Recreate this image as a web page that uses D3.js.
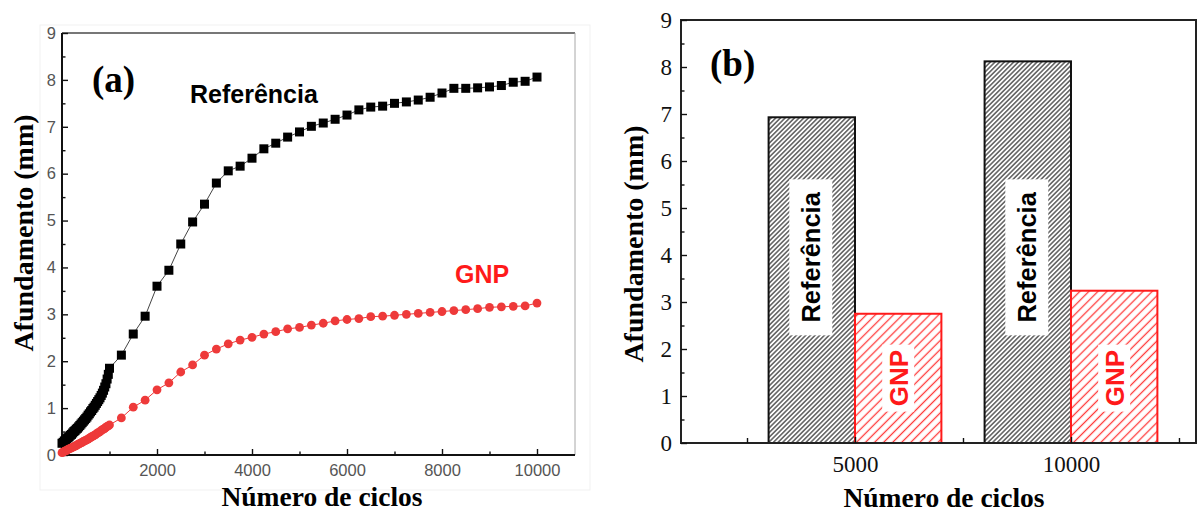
<!DOCTYPE html>
<html>
<head>
<meta charset="utf-8">
<script src="https://cdn.jsdelivr.net/npm/d3@7"></script>
<style>
  body { margin: 0; background: #fff; }
  svg { display: block; }
</style>
</head>
<body>
<svg id="fig" width="1200" height="513"></svg>
<script>
// ---- (a) sinking depth vs. number of cycles ----
const refCycles = [0, 25, 50, 75, 100, 125, 150, 175, 200, 225, 250, 275, 300, 325, 350, 375, 400, 425, 450, 475,
  500, 525, 550, 575, 600, 625, 650, 675, 700, 725, 750, 775, 800, 825, 850, 875, 900, 925, 950, 975,
  1000, 1250, 1500, 1750, 2000, 2250, 2500, 2750, 3000, 3250, 3500, 3750, 4000, 4250, 4500, 4750, 5000,
  5250, 5500, 5750, 6000, 6250, 6500, 6750, 7000, 7250, 7500, 7750, 8000, 8250, 8500, 8750, 9000,
  9250, 9500, 9750, 10000];
const refDepth = [0.25, 0.27, 0.30, 0.32, 0.35, 0.37, 0.39, 0.42, 0.44, 0.47, 0.50, 0.52, 0.55, 0.57, 0.60, 0.63, 0.66, 0.69, 0.72, 0.75,
  0.78, 0.81, 0.85, 0.88, 0.92, 0.95, 0.99, 1.02, 1.06, 1.10, 1.14, 1.18, 1.22, 1.27, 1.32, 1.38, 1.45, 1.52, 1.62, 1.72,
  1.85, 2.13, 2.58, 2.96, 3.60, 3.94, 4.50, 4.97, 5.35, 5.80, 6.06, 6.16, 6.33, 6.53, 6.65, 6.78, 6.89,
  7.01, 7.08, 7.16, 7.25, 7.36, 7.42, 7.44, 7.50, 7.53, 7.57, 7.63, 7.72, 7.82, 7.82, 7.83, 7.85,
  7.88, 7.95, 7.97, 8.06];

const gnpCycles = [0, 25, 50, 75, 100, 125, 150, 175, 200, 225, 250, 275, 300, 325, 350, 375, 400, 425, 450, 475,
  500, 525, 550, 575, 600, 625, 650, 675, 700, 725, 750, 775, 800, 825, 850, 875, 900, 925, 950, 975, 1000,
  1250, 1500, 1750, 2000, 2250, 2500, 2750, 3000, 3250, 3500, 3750, 4000, 4250, 4500, 4750, 5000,
  5250, 5500, 5750, 6000, 6250, 6500, 6750, 7000, 7250, 7500, 7750, 8000, 8250, 8500, 8750, 9000,
  9250, 9500, 9750, 10000];
const gnpDepth = [0.05, 0.06, 0.08, 0.09, 0.10, 0.12, 0.13, 0.14, 0.15, 0.17, 0.18, 0.19, 0.20, 0.22, 0.23, 0.25, 0.26, 0.27, 0.29, 0.30,
  0.31, 0.33, 0.34, 0.36, 0.37, 0.39, 0.40, 0.42, 0.43, 0.45, 0.47, 0.48, 0.50, 0.52, 0.54, 0.55, 0.57, 0.59, 0.61, 0.62, 0.64,
  0.79, 1.02, 1.17, 1.39, 1.54, 1.77, 1.92, 2.13, 2.26, 2.37, 2.45, 2.51, 2.58, 2.63, 2.69, 2.72,
  2.77, 2.81, 2.86, 2.89, 2.91, 2.95, 2.96, 2.98, 3.00, 3.02, 3.04, 3.06, 3.08, 3.10, 3.12, 3.15,
  3.16, 3.17, 3.18, 3.24];

const lineXTicks = [2000, 4000, 6000, 8000, 10000];
const lineXMinor = [1000, 3000, 5000, 7000, 9000];

// ---- (b) depth at 5000 and 10000 cycles ----
const barCycles = [5000, 10000];
const barRef = [6.93, 8.12];
const barGnp = [2.75, 3.24];
const barXMinor = [2500, 7500, 12500];

const depthTicks = [0, 1, 2, 3, 4, 5, 6, 7, 8, 9];
const depthMinor = [0.5, 1.5, 2.5, 3.5, 4.5, 5.5, 6.5, 7.5, 8.5];

const seriesNames = ["Referência", "GNP"];
const axisTitleY = "Afundamento (mm)";
const axisTitleX = "Número de ciclos";

const SERIF = "'Liberation Serif', 'Times New Roman', serif";
const SANS = "'Liberation Sans', Arial, sans-serif";
const RED = "#ff1a1a";
const RED_MARK = "#ee3a3a";

const svg = d3.select("#fig");

// ---------------- panel (a) ----------------
const xL = d3.scaleLinear().domain([0, 10800]).range([62, 575]);
const yL = d3.scaleLinear().domain([0, 9]).range([455, 33]);
const pa = svg.append("g");

// faint outer frame of the panel
pa.append("rect").attr("x", 40).attr("y", 25).attr("width", 550).attr("height", 465)
  .attr("fill", "none").attr("stroke", "#f1f1f1").attr("stroke-width", 1);

// frame: top and right edges
pa.append("line").attr("x1", xL.range()[0]).attr("x2", xL.range()[1])
  .attr("y1", yL.range()[1]).attr("y2", yL.range()[1])
  .attr("stroke", "#4a4a4a").attr("stroke-width", 1.6);
pa.append("line").attr("x1", xL.range()[1]).attr("x2", xL.range()[1])
  .attr("y1", yL.range()[1]).attr("y2", yL.range()[0])
  .attr("stroke", "#a8a8a8").attr("stroke-width", 1);

function styleAxis(g, font, size, color) {
  g.select(".domain").remove();
  g.selectAll(".tick line").attr("stroke", "#111").attr("stroke-width", 1.4);
  g.selectAll(".tick text").attr("font-family", font).attr("font-size", size).attr("fill", color);
}

// minor ticks
pa.append("g").attr("transform", `translate(0,${yL(0)})`)
  .call(d3.axisBottom(xL).tickValues(lineXMinor).tickSize(-3.5).tickFormat(""))
  .call(g => styleAxis(g, SANS, 16, "#555"));
pa.append("g").attr("transform", `translate(${xL(0)},0)`)
  .call(d3.axisLeft(yL).tickValues(depthMinor).tickSize(-3.5).tickFormat(""))
  .call(g => styleAxis(g, SANS, 16, "#555"));
// major ticks
pa.append("g").attr("transform", `translate(0,${yL(0)})`)
  .call(d3.axisBottom(xL).tickValues(lineXTicks).tickSize(-6).tickPadding(9).tickFormat(d3.format("d")))
  .call(g => styleAxis(g, SANS, 16.5, "#555"));
pa.append("g").attr("transform", `translate(${xL(0)},0)`)
  .call(d3.axisLeft(yL).tickValues(depthTicks).tickSize(-6).tickPadding(6).tickFormat(d3.format("d")))
  .call(g => styleAxis(g, SANS, 16.5, "#555"));

// left and bottom axis lines
pa.append("line").attr("x1", xL.range()[0]).attr("x2", xL.range()[1])
  .attr("y1", yL(0)).attr("y2", yL(0)).attr("stroke", "#111").attr("stroke-width", 2);
pa.append("line").attr("x1", xL(0)).attr("x2", xL(0))
  .attr("y1", yL.range()[1]).attr("y2", yL(0)).attr("stroke", "#111").attr("stroke-width", 2);

const refPts = refCycles.map((c, i) => [c, refDepth[i]]);
const gnpPts = gnpCycles.map((c, i) => [c, gnpDepth[i]]);
const line = d3.line().x(d => xL(d[0])).y(d => yL(d[1]));

pa.append("path").datum(refPts).attr("d", line)
  .attr("fill", "none").attr("stroke", "#444").attr("stroke-width", 1);
pa.append("path").datum(gnpPts).attr("d", line)
  .attr("fill", "none").attr("stroke", RED_MARK).attr("stroke-width", 1);

const sq = 9;
pa.append("g").selectAll("rect").data(refPts).join("rect")
  .attr("x", d => xL(d[0]) - sq / 2).attr("y", d => yL(d[1]) - sq / 2)
  .attr("width", sq).attr("height", sq).attr("fill", "#000");
pa.append("g").selectAll("circle").data(gnpPts).join("circle")
  .attr("cx", d => xL(d[0])).attr("cy", d => yL(d[1])).attr("r", 4.4)
  .attr("fill", RED_MARK);

pa.append("text").attr("x", 92).attr("y", 92)
  .attr("font-family", SERIF).attr("font-weight", "bold").attr("font-size", 37)
  .attr("fill", "#000").text("(a)");
pa.append("text").attr("x", 190).attr("y", 103)
  .attr("font-family", SANS).attr("font-weight", "bold").attr("font-size", 25)
  .attr("fill", "#000").text(seriesNames[0]);
pa.append("text").attr("x", 455).attr("y", 283)
  .attr("font-family", SANS).attr("font-weight", "bold").attr("font-size", 25)
  .attr("fill", RED).text(seriesNames[1]);

pa.append("text").attr("transform", "translate(33,233) rotate(-90)")
  .attr("text-anchor", "middle").attr("font-family", SERIF).attr("font-weight", "bold")
  .attr("font-size", 28).attr("fill", "#000").text(axisTitleY);
pa.append("text").attr("x", 322).attr("y", 506)
  .attr("text-anchor", "middle").attr("font-family", SERIF).attr("font-weight", "bold")
  .attr("font-size", 27.5).attr("fill", "#000").text(axisTitleX);

// ---------------- panel (b) ----------------
const xR = d3.scaleLinear().domain([972, 12894]).range([681, 1196]);
const yR = d3.scaleLinear().domain([0, 9]).range([443, 20]);
const barSpan = 2000;
const pb = svg.append("g");

const defs = svg.append("defs");
function hatch(id, gap, color, width) {
  const p = defs.append("pattern").attr("id", id)
    .attr("patternUnits", "userSpaceOnUse").attr("width", gap).attr("height", 10)
    .attr("patternTransform", "rotate(45)");
  p.append("rect").attr("width", gap).attr("height", 10).attr("fill", "#fff");
  p.append("line").attr("x1", gap / 2).attr("x2", gap / 2).attr("y1", 0).attr("y2", 10)
    .attr("stroke", color).attr("stroke-width", width);
}
hatch("hatchRef", 3.3, "#333", 1.2);
hatch("hatchGnp", 6.4, "#ff3a3a", 1.3);

// bars
pb.append("g").selectAll("rect").data(barCycles).join("rect")
  .attr("x", d => xR(d - barSpan)).attr("width", d => xR(d) - xR(d - barSpan))
  .attr("y", (d, i) => yR(barRef[i])).attr("height", (d, i) => yR(0) - yR(barRef[i]))
  .attr("fill", "url(#hatchRef)").attr("stroke", "#111").attr("stroke-width", 2);
pb.append("g").selectAll("rect").data(barCycles).join("rect")
  .attr("x", d => xR(d)).attr("width", d => xR(d + barSpan) - xR(d))
  .attr("y", (d, i) => yR(barGnp[i])).attr("height", (d, i) => yR(0) - yR(barGnp[i]))
  .attr("fill", "url(#hatchGnp)").attr("stroke", RED).attr("stroke-width", 2);

// in-bar labels on white boxes
function barLabel(cx, cy, text, color, size, boxW, boxH) {
  pb.append("rect").attr("x", cx - boxW / 2).attr("y", cy - boxH / 2)
    .attr("width", boxW).attr("height", boxH).attr("fill", "#fff");
  pb.append("text").attr("transform", `translate(${cx},${cy}) rotate(-90)`)
    .attr("text-anchor", "middle").attr("dy", "0.36em")
    .attr("font-family", SANS).attr("font-weight", "bold").attr("font-size", size)
    .attr("fill", color).text(text);
}
barCycles.forEach((c, i) => {
  const refMid = (xR(c - barSpan) + xR(c)) / 2;
  const gnpMid = (xR(c) + xR(c + barSpan)) / 2;
  barLabel(refMid - 1, yR(3.95), seriesNames[0], "#000", 25.5, 43, 156);
  barLabel(gnpMid, yR(1.38), seriesNames[1], RED, 26, 32, 67);
});

// frame
pb.append("rect").attr("x", xR.range()[0]).attr("y", yR.range()[1])
  .attr("width", xR.range()[1] - xR.range()[0]).attr("height", yR.range()[0] - yR.range()[1])
  .attr("fill", "none").attr("stroke", "#222").attr("stroke-width", 2);

pb.append("g").attr("transform", `translate(0,${yR(0)})`)
  .call(d3.axisBottom(xR).tickValues(barXMinor).tickSize(-5).tickFormat(""))
  .call(g => styleAxis(g, SERIF, 23, "#111"));
pb.append("g").attr("transform", `translate(0,${yR(0)})`)
  .call(d3.axisBottom(xR).tickValues(barCycles).tickSize(-6).tickPadding(13).tickFormat(d3.format("d")))
  .call(g => styleAxis(g, SERIF, 23, "#111"));
pb.append("g").attr("transform", `translate(${xR.range()[0]},0)`)
  .call(d3.axisLeft(yR).tickValues(depthMinor).tickSize(-3.5).tickFormat(""))
  .call(g => styleAxis(g, SERIF, 23, "#111"));
pb.append("g").attr("transform", `translate(${xR.range()[0]},0)`)
  .call(d3.axisLeft(yR).tickValues(depthTicks).tickSize(-6).tickPadding(9).tickFormat(d3.format("d")))
  .call(g => styleAxis(g, SERIF, 23, "#111"));

pb.append("text").attr("x", 710).attr("y", 76)
  .attr("font-family", SERIF).attr("font-weight", "bold").attr("font-size", 37)
  .attr("fill", "#000").text("(b)");

pb.append("text").attr("transform", "translate(643,244) rotate(-90)")
  .attr("text-anchor", "middle").attr("font-family", SERIF).attr("font-weight", "bold")
  .attr("font-size", 28).attr("fill", "#000").text(axisTitleY);
pb.append("text").attr("x", 944).attr("y", 507)
  .attr("text-anchor", "middle").attr("font-family", SERIF).attr("font-weight", "bold")
  .attr("font-size", 27.5).attr("fill", "#000").text(axisTitleX);
</script>
</body>
</html>
